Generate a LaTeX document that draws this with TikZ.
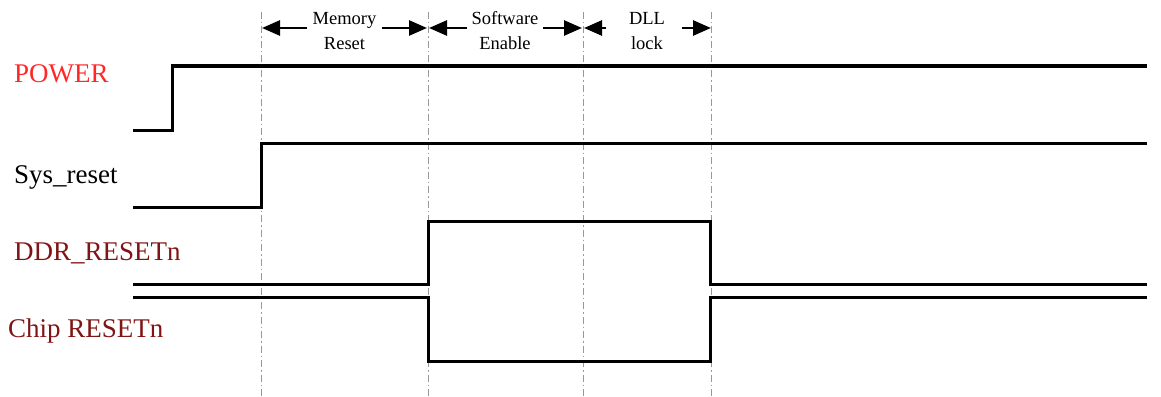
\documentclass[tikz,border=0pt]{standalone}
\usepackage{fontspec}
\setmainfont{Liberation Serif}
\usetikzlibrary{arrows.meta}
\definecolor{pwrred}{RGB}{255,40,40}
\definecolor{ddrred}{RGB}{128,20,20}
\tikzset{
  sig/.style={line width=3pt, line join=miter},
  guide/.style={gray!80, line width=0.9pt, dash pattern=on 7pt off 3pt on 1.5pt off 3pt},
  dimarrow/.style={line width=2.6pt, -{Triangle[length=18pt,width=15pt]}},
  lbl/.style={anchor=base west, inner sep=0pt, font=\fontsize{27}{30}\selectfont},
  phase/.style={align=center, anchor=base, inner sep=0pt, font=\fontsize{18.5}{25}\selectfont}
}
\begin{document}
\begin{tikzpicture}[x=1pt,y=-1pt]
\useasboundingbox (0,0) rectangle (1161,396);
% guide lines
\foreach \n/\x in {g1/261,g2/428,g3/583,g4/711}{
  \coordinate (\n t) at (\x,12);
  \coordinate (\n b) at (\x,396);
  \draw[guide] (\n t) -- (\n b);
}
% labels
\node[lbl, text=pwrred] (pwr) at (14,82) {POWER};
\node[lbl] (sys) at (14,183) {Sys\_reset};
\node[lbl, text=ddrred] (ddr) at (14,260) {DDR\_RESETn};
\node[lbl, text=ddrred] (chip) at (8,337) {Chip RESETn};
% waveforms
\draw[sig] (133,130) -- (172,130) -- (172,66) -- (1147,66);
\draw[sig] (133,207) -- (261,207) -- (261,143) -- (1147,143);
\draw[sig] (133,284) -- (428,284) -- (428,221) -- (710,221) -- (710,284) -- (1147,284);
\draw[sig] (133,297) -- (428,297) -- (428,361) -- (710,361) -- (710,297) -- (1147,297);
% phase labels
\node[phase] (mr) at (344.5,50) {Memory\\Reset};
\node[phase] (se) at (505,50) {Software\\Enable};
\node[phase] (dl) at (647,50) {DLL\\lock};
\coordinate (a1) at (307,28); \coordinate (a1h) at (262,28);
\coordinate (a2) at (382,28); \coordinate (a2h) at (427,28);
\coordinate (a3) at (467,28); \coordinate (a3h) at (429,28);
\coordinate (a4) at (543,28); \coordinate (a4h) at (582,28);
\coordinate (a5) at (606,28); \coordinate (a5h) at (584,28);
\coordinate (a6) at (682,28); \coordinate (a6h) at (711,28);
\draw[dimarrow] (a1) -- (a1h);
\draw[dimarrow] (a2) -- (a2h);
\draw[dimarrow] (a3) -- (a3h);
\draw[dimarrow] (a4) -- (a4h);
\draw[dimarrow] (a5) -- (a5h);
\draw[dimarrow] (a6) -- (a6h);
\end{tikzpicture}
\end{document}
